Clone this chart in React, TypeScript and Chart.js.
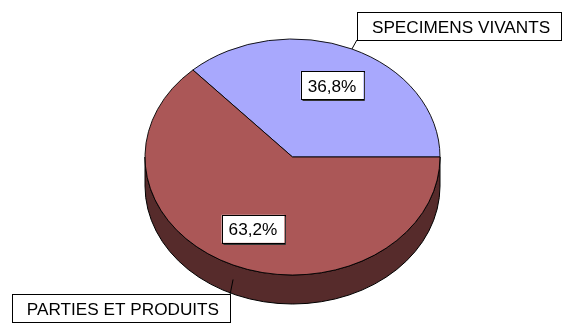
import React, { useEffect, useRef } from "react";
import { Chart, registerables } from "chart.js";

Chart.register(...registerables);

const categories = ["SPECIMENS VIVANTS", "PARTIES ET PRODUITS"];
const values = [36.8, 63.2];
const percentLabels = ["36,8%", "63,2%"];
const topColors = ["#a8a8fd", "#ab5757"];
const sideColors = ["#4f4f8a", "#562b2b"];

const FONT = '17.2px "Liberation Sans", Arial, sans-serif';
const Y_RATIO = 118 / 147.5;
const DEPTH = 29;

function drawBox(ctx: CanvasRenderingContext2D, x: number, y: number, w: number, h: number, text: string, textX: number, shadow: boolean) {
  ctx.save();
  ctx.fillStyle = "#ffffff";
  ctx.fillRect(x, y, w, h);
  ctx.strokeStyle = "#000000";
  ctx.lineWidth = 1;
  ctx.strokeRect(Math.round(x) + 0.5, Math.round(y) + 0.5, Math.round(w), Math.round(h));
  if (shadow) {
    ctx.strokeStyle = "#333333";
    ctx.beginPath();
    ctx.moveTo(Math.round(x) + 1.5, Math.round(y + h) + 1.5);
    ctx.lineTo(Math.round(x + w) + 1.5, Math.round(y + h) + 1.5);
    ctx.lineTo(Math.round(x + w) + 1.5, Math.round(y) + 1.5);
    ctx.stroke();
  }
  ctx.fillStyle = "#000000";
  ctx.font = FONT;
  ctx.textBaseline = "alphabetic";
  ctx.textAlign = "left";
  ctx.fillText(text, textX, y + h / 2 + 6.5);
  ctx.restore();
}

const pie3d = {
  id: "pie3d",
  beforeDatasetsDraw(chart: any) {
    const meta = chart.getDatasetMeta(0);
    const arcs = meta.data;
    if (!arcs.length) return;
    const cx = arcs[0].x;
    const cy = arcs[0].y;
    const r = arcs[0].outerRadius;
    const ctx: CanvasRenderingContext2D = chart.ctx;
    arcs.forEach((arc: any, i: number) => {
      const norm = (a: number) => ((a % (2 * Math.PI)) + 2 * Math.PI) % (2 * Math.PI);
      const segs: [number, number][] = [];
      const a0 = norm(arc.startAngle);
      const a1 = a0 + (arc.endAngle - arc.startAngle);
      [[0, Math.PI], [2 * Math.PI, 3 * Math.PI]].forEach(([lo, hi]) => {
        const ss = Math.max(a0, lo);
        const ee = Math.min(a1, hi);
        if (ee > ss) segs.push([ss, ee]);
      });
      segs.forEach(([ss, ee]) => {
        ctx.save();
        ctx.translate(cx, cy);
        ctx.scale(1, Y_RATIO);
        ctx.beginPath();
        ctx.arc(0, 0, r, ss, ee, false);
        ctx.arc(0, DEPTH / Y_RATIO, r, ee, ss, true);
        ctx.closePath();
        ctx.restore();
        ctx.fillStyle = sideColors[i];
        ctx.fill();
        ctx.strokeStyle = "#000";
        ctx.lineWidth = 1;
        ctx.stroke();
      });
    });
    ctx.save();
    ctx.translate(cx, cy);
    ctx.scale(1, Y_RATIO);
    ctx.translate(-cx, -cy);
  },
  afterDatasetsDraw(chart: any) {
    const meta = chart.getDatasetMeta(0);
    if (!meta.data.length) return;
    const ctx: CanvasRenderingContext2D = chart.ctx;
    ctx.restore();
    const arcs = meta.data;
    const cx = arcs[0].x;
    const cy = arcs[0].y;
    const r = arcs[0].outerRadius;
    ctx.save();
    ctx.font = FONT;
    arcs.forEach((arc: any, i: number) => {
      const mid = (arc.startAngle + arc.endAngle) / 2;
      const px = cx + Math.cos(mid) * r * 0.665;
      const py = cy + Math.sin(mid) * r * 0.665 * Y_RATIO;
      const tw = ctx.measureText(percentLabels[i]).width;
      const w = tw + 14;
      const h = 28;
      drawBox(ctx, px - w / 2, py - h / 2, w, h, percentLabels[i], px - tw / 2, true);
    });
    arcs.forEach((arc: any, i: number) => {
      const mid = (arc.startAngle + arc.endAngle) / 2;
      const ex = cx + Math.cos(mid) * r;
      const sy = Math.sin(mid);
      const ey = cy + sy * r * Y_RATIO + (sy > 0 ? DEPTH / 2 : 0);
      const tw = ctx.measureText(categories[i]).width;
      const w = tw + 26;
      const h = 28;
      let bx: number, by: number, lx: number, ly: number;
      if (sy < 0) {
        bx = ex + 5;
        by = ey - 9 - h;
        lx = bx;
        ly = by + h;
      } else {
        bx = ex - 3 - w;
        by = ey + 15;
        lx = bx + w;
        ly = by;
      }
      ctx.strokeStyle = "#000";
      ctx.lineWidth = 1;
      ctx.beginPath();
      ctx.moveTo(ex, ey);
      ctx.lineTo(lx, ly);
      ctx.stroke();
      drawBox(ctx, bx, by, w, h, categories[i], bx + 15, false);
    });
    ctx.restore();
  },
};

export default function App() {
  const ref = useRef<HTMLCanvasElement | null>(null);
  useEffect(() => {
    if (!ref.current) return;
    const total = values.reduce((a, b) => a + b, 0);
    const chart = new Chart(ref.current, {
      type: "pie",
      data: {
        labels: categories,
        datasets: [
          {
            data: values,
            backgroundColor: topColors,
            borderColor: "#000000",
            borderWidth: 1,
            clip: false as any,
          },
        ],
      },
      options: {
        animation: false,
        responsive: true,
        maintainAspectRatio: false,
        events: [],
        rotation: 90 - (values[0] / total) * 360,
        radius: 147.5,
        layout: { padding: { left: 145, right: 122, top: 9.5, bottom: 18.5 } },
        plugins: { legend: { display: false }, tooltip: { enabled: false } },
      } as any,
      plugins: [pie3d],
    });
    return () => chart.destroy();
  }, []);
  return (
    <div style={{ position: "fixed", left: 0, top: 0, width: 562, height: 323, background: "#fff" }}>
      <canvas ref={ref} />
    </div>
  );
}
